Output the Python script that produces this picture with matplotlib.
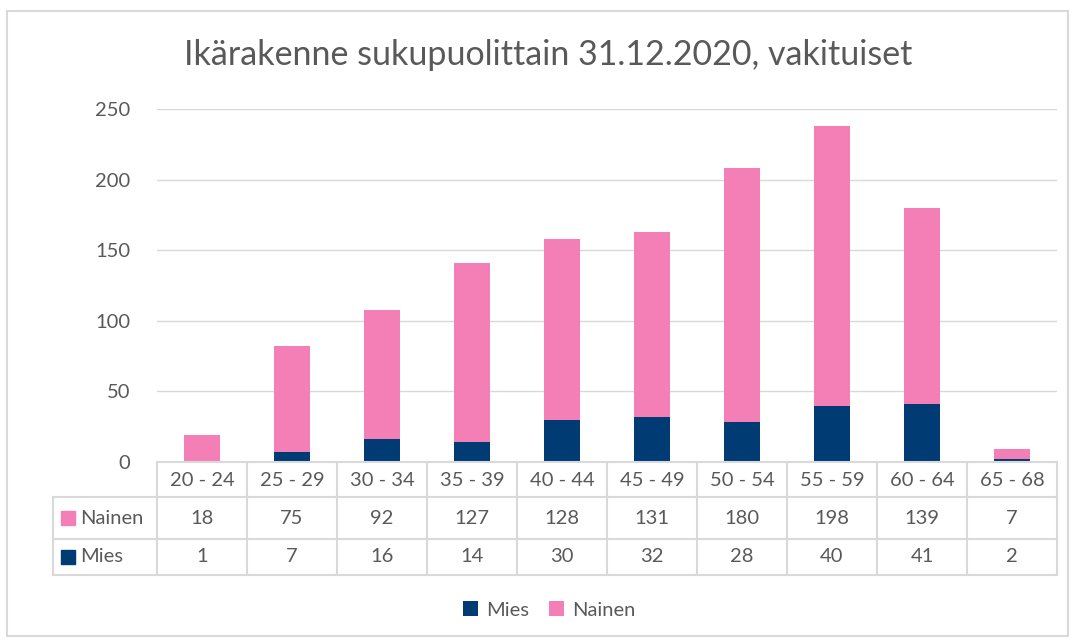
import matplotlib
matplotlib.use("Agg")
import matplotlib.pyplot as plt
import matplotlib.transforms as mtransforms
from matplotlib.patches import Rectangle
import numpy as np

plt.rcParams['font.family'] = ['Lato', 'DejaVu Sans']

# data
ages = ['20 - 24', '25 - 29', '30 - 34', '35 - 39', '40 - 44',
        '45 - 49', '50 - 54', '55 - 59', '60 - 64', '65 - 68']
nainen = [18, 75, 92, 127, 128, 131, 180, 198, 139, 7]
mies = [1, 7, 16, 14, 30, 32, 28, 40, 41, 2]

c_mies = '#003B73'
c_nainen = '#F47FB6'
grid_c = '#D9D9D9'
txt_c = '#595959'
fs = 14.5

W, H = 1075, 643
fig = plt.figure(figsize=(W / 100, H / 100), dpi=100)

def fx(x):
    return x / W

def fy(y):
    return 1 - y / H

# outer chart border
fig.patches.append(Rectangle((fx(7), fy(636)), fx(1068) - fx(7), fy(11) - fy(636),
                             transform=fig.transFigure, fill=False,
                             edgecolor=grid_c, lw=1.5))

ax = fig.add_axes([fx(157), fy(462), fx(1057) - fx(157), fy(109) - fy(462)])
x = np.arange(len(ages))
ax.bar(x, mies, width=0.4, color=c_mies, label='Mies', zorder=3)
ax.bar(x, nainen, width=0.4, bottom=mies, color=c_nainen, label='Nainen', zorder=3)
ax.set_xlim(-0.5, len(ages) - 0.5)
ax.set_ylim(0, 250)
ax.set_yticks(range(0, 251, 50))
ax.yaxis.grid(True, color=grid_c, lw=1, zorder=0)
ax.tick_params(axis='y', length=0, labelsize=fs, labelcolor=txt_c, pad=19)
ax.set_xticks([])
for s in ax.spines.values():
    s.set_visible(False)

fig.text(0.51, fy(55), 'Ikärakenne sukupuolittain 31.12.2020, vakituiset',
         ha='center', va='center', fontsize=24.5, color=txt_c)

# data table under the axis
tr = mtransforms.blended_transform_factory(ax.transData, fig.transFigure)
row_y = [462, 497, 539, 575]
lw = 1.5
fig.add_artist(plt.Line2D([fx(157), fx(1057)], [fy(462), fy(462)], color=grid_c, lw=lw))
for yy in row_y[1:]:
    fig.add_artist(plt.Line2D([fx(53), fx(1057)], [fy(yy), fy(yy)], color=grid_c, lw=lw))
fig.add_artist(plt.Line2D([fx(53), fx(53)], [fy(497), fy(575)], color=grid_c, lw=lw))
for k in range(len(ages) + 1):
    xp = 157 + k * 90
    fig.add_artist(plt.Line2D([fx(xp), fx(xp)], [fy(462), fy(575)], color=grid_c, lw=lw))

for i in range(len(ages)):
    fig.text(x[i], fy(480), ages[i], transform=tr, ha='center', va='center',
             fontsize=fs, color=txt_c)
    fig.text(x[i], fy(518), str(nainen[i]), transform=tr, ha='center', va='center',
             fontsize=fs, color=txt_c)
    fig.text(x[i], fy(557), str(mies[i]), transform=tr, ha='center', va='center',
             fontsize=fs, color=txt_c)

# row headers with colour keys
for yy, lab, col in [(518, 'Nainen', c_nainen), (557, 'Mies', c_mies)]:
    fig.patches.append(Rectangle((fx(61), fy(yy + 7)), fx(14), fy(0) - fy(14),
                                 transform=fig.transFigure, color=col))
    fig.text(fx(80), fy(yy), lab, ha='left', va='center', fontsize=fs, color=txt_c)

# legend
leg = fig.legend(loc='center', bbox_to_anchor=(0.511, fy(610)), ncol=2, frameon=False,
                 fontsize=fs, labelcolor=txt_c, handlelength=0.75, handleheight=0.75,
                 handletextpad=0.4, columnspacing=1.0)

fig.savefig('out.png', dpi=100)
